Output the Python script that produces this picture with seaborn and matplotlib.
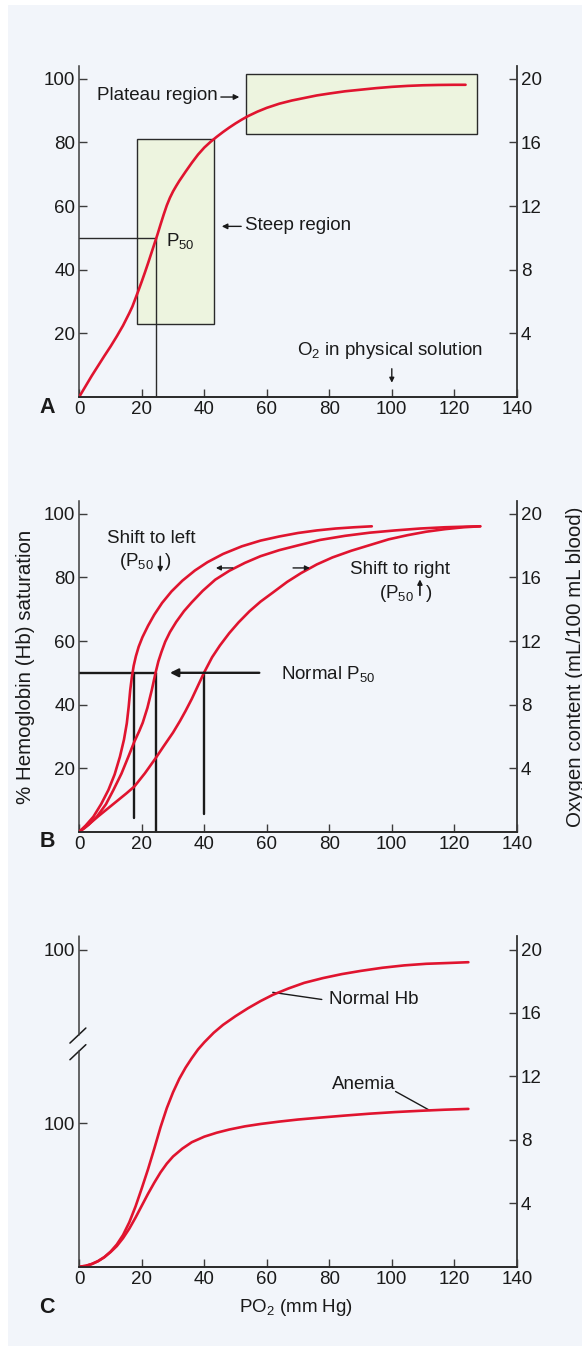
import numpy as np
import pandas as pd
import seaborn as sns
import matplotlib.pyplot as plt
from matplotlib.patches import Rectangle

# ---- panel A : single dissociation curve (PO2 mm Hg, % saturation)
a_po2 = [0, 2, 4, 6, 8, 10, 12, 14, 16, 17, 18, 19, 20, 21, 22, 23, 24, 25, 26, 27, 28,
         29, 30, 31, 32, 34, 36, 38, 40, 42, 44, 46, 48, 50, 52, 54, 57, 60, 64, 68, 72,
         76, 80, 85, 90, 95, 100, 105, 110, 115, 120, 123.6]
a_sat = [0, 3.3, 6.6, 9.7, 12.8, 15.8, 19, 22.4, 26.3, 28.4, 31, 33.6, 36.3, 39.1, 42, 45,
         48, 51, 54.2, 57.3, 60.2, 62.6, 64.6, 66.3, 67.9, 70.8, 73.6, 76.2, 78.4, 80.2,
         81.8, 83.3, 84.7, 86, 87.2, 88.3, 89.7, 90.9, 92.2, 93.2, 94, 94.8, 95.4, 96.1,
         96.6, 97.1, 97.5, 97.8, 98.0, 98.1, 98.15, 98.15]

# ---- panel B : left shift / normal / right shift
bl_po2 = [0, 2, 4.5, 7, 9.3, 11.3, 13, 14.3, 15.2, 15.8, 16.3, 16.8, 17.4, 18.1, 19, 20.2,
          22, 24, 26.5, 29.5, 33, 37, 41, 46, 52, 58, 64, 70, 76, 82, 88, 93.6]
bl_sat = [0, 1.9, 4.7, 8.7, 13.1, 18, 23.6, 29, 34.1, 39.3, 44.6, 48.5, 52.2, 55.2, 58.2,
          61.2, 64.8, 68.3, 72, 75.6, 79, 82.2, 84.8, 87.4, 89.8, 91.6, 92.9, 94, 94.8,
          95.4, 95.8, 96.1]
bn_po2 = [0, 1.5, 3, 5.6, 8.5, 10.9, 13.5, 15.7, 17.6, 19.2, 20.3, 21.8, 23.2, 24.4, 25.3,
          26.3, 27.5, 29, 31, 33.5, 36, 39.5, 43.5, 48, 53, 58, 64, 70, 77, 85, 93, 101,
          109, 117, 124, 128.3]
bn_sat = [0, 1.0, 2.2, 4.7, 8.6, 13.1, 18.3, 23.6, 28.3, 31.7, 34.3, 39.0, 44.6, 50, 53.6,
          56.6, 59.8, 62.8, 66.0, 69.4, 72.2, 75.8, 79.3, 82.1, 84.6, 86.7, 88.6, 90.1,
          91.8, 93.1, 94.1, 94.8, 95.4, 95.8, 96, 96.1]
br_po2 = [0, 3, 6, 9, 12, 15, 17.6, 21, 24.4, 27, 30, 32.2, 34, 36, 38, 40, 42.5, 45, 48,
          51, 54.5, 58, 62, 66.5, 71, 76, 81, 87, 93, 99, 105, 111, 117, 123, 128.3]
br_sat = [0, 2.3, 4.8, 7.2, 9.6, 12.0, 14.2, 18.4, 23.1, 26.9, 31.2, 34.8, 38.0, 41.8, 46.0,
          50.2, 54.9, 58.6, 62.5, 65.9, 69.4, 72.4, 75.3, 78.6, 81.4, 84.1, 86.3, 88.4,
          90.2, 92, 93.3, 94.4, 95.2, 95.8, 96.1]
p50_left, p50_norm, p50_right = 17.6, 24.4, 40.0

# ---- panel C : O2 content (mL/100 mL), normal Hb vs anemia
cn_po2 = [0, 2, 4, 6, 8, 10, 12, 14, 16, 18, 20, 22, 24, 26, 28, 30, 32, 34, 36, 38, 40,
          43, 46, 50, 54, 58, 62, 67, 72, 78, 84, 90, 97, 104, 111, 118, 124.5]
cn_o2 = [0, 0.05, 0.17, 0.35, 0.6, 0.95, 1.4, 2.0, 2.8, 3.8, 4.95, 6.15, 7.45, 8.8, 10.0,
         11.0, 11.85, 12.55, 13.15, 13.7, 14.15, 14.75, 15.25, 15.8, 16.3, 16.75, 17.15,
         17.55, 17.9, 18.2, 18.45, 18.65, 18.85, 19.0, 19.1, 19.15, 19.2]
ca_po2 = [0, 2, 4, 6, 8, 10, 12, 14, 16, 18, 20, 22, 24, 26, 28, 30, 33, 36, 40, 44, 48,
          53, 58, 64, 70, 77, 85, 93, 101, 109, 117, 124.5]
ca_o2 = [0, 0.05, 0.17, 0.35, 0.6, 0.92, 1.3, 1.8, 2.4, 3.1, 3.85, 4.6, 5.3, 5.95, 6.5,
         6.95, 7.45, 7.85, 8.2, 8.45, 8.65, 8.85, 9.0, 9.15, 9.28, 9.4, 9.53, 9.65, 9.75,
         9.83, 9.9, 9.95]

sns.set_theme(style="ticks")
plt.rcParams['font.family'] = ['Liberation Sans', 'DejaVu Sans']
plt.rcParams['mathtext.fontset'] = 'custom'
plt.rcParams['mathtext.rm'] = 'Liberation Sans'
plt.rcParams['mathtext.it'] = 'Liberation Sans:italic'

RED = '#E0142F'
INK = '#1a1a1a'
SPINE = '#3c3c3c'
FS = 13.5
LFS = 14.8

fig = plt.figure(figsize=(5.82, 13.46), dpi=100)
fig.patches.append(Rectangle((8 / 582, 0), 1, 1 - 5 / 1346, transform=fig.transFigure,
                             facecolor='#F2F5FA', edgecolor='none', zorder=-5))

W, H = 582, 1346
left = 79.3 / W
width = 437.5 / W
height = 330.5 / H


def make_axes(bottom_px, ytop, yticks, ylabels, right_top):
    ax = fig.add_axes([left, 1 - bottom_px / H, width, height])
    ax.set_facecolor('none')
    ax.set_xlim(0, 140)
    ax.set_ylim(0, ytop)
    ax.set_xticks(range(0, 141, 20))
    ax.set_yticks(yticks)
    ax.set_yticklabels(ylabels)
    ax.spines['top'].set_visible(False)
    for s in ['left', 'right', 'bottom']:
        ax.spines[s].set_color(SPINE)
        ax.spines[s].set_linewidth(1.1)
    ax.tick_params(direction='in', length=6, width=1, colors=SPINE, labelcolor=INK,
                   labelsize=FS, pad=3)
    tw = ax.twinx()
    tw.set_ylim(0, right_top)
    tw.set_yticks([4, 8, 12, 16, 20])
    tw.spines['top'].set_visible(False)
    tw.spines['left'].set_visible(False)
    tw.spines['right'].set_color(SPINE)
    tw.spines['right'].set_linewidth(1.1)
    tw.tick_params(direction='in', length=6, width=1, colors=SPINE, labelcolor=INK,
                   labelsize=FS, pad=3)
    return ax, tw


def arrow(ax, x0, y0, x1, y1, lw=1.0, ms=8):
    ax.annotate('', xy=(x1, y1), xytext=(x0, y0),
                arrowprops=dict(arrowstyle='-|>', lw=lw, color=INK, mutation_scale=ms,
                                shrinkA=0, shrinkB=0))


def curve(ax, xs, ys):
    sns.lineplot(x=xs, y=ys, ax=ax, color=RED, lw=1.9, sort=False, estimator=None,
                 zorder=3)


# ================= A
axA, twA = make_axes(396.7, 104, [20, 40, 60, 80, 100], ['20', '40', '60', '80', '100'],
                    20.8)
axA.add_patch(Rectangle((18.4, 22.9), 43.1 - 18.4, 81.0 - 22.9, facecolor='#EDF4DF',
                        edgecolor='#2a2a2a', lw=1.0, zorder=1))
axA.add_patch(Rectangle((53.3, 82.7), 127.4 - 53.3, 101.6 - 82.7, facecolor='#EDF4DF',
                        edgecolor='#2a2a2a', lw=1.0, zorder=1))
axA.plot([0, p50_norm], [50, 50], color='#2a2a2a', lw=1.0, zorder=2)
axA.plot([p50_norm, p50_norm], [0, 50], color='#2a2a2a', lw=1.0, zorder=2)
curve(axA, a_po2, a_sat)
axA.text(44.3, 94.9, 'Plateau region', ha='right', va='center', fontsize=FS, color=INK)
arrow(axA, 45.3, 94.3, 51.2, 94.3)
arrow(axA, 51.8, 53.6, 45.6, 53.6)
axA.text(53.0, 53.8, 'Steep region', ha='left', va='center', fontsize=FS, color=INK)
axA.text(27.6, 49.0, r'P$_{\mathrm{50}}$', ha='left', va='center', fontsize=FS, color=INK)
axA.text(99.4, 14.4, r'O$_{\mathrm{2}}$ in physical solution', ha='center', va='center',
         fontsize=FS, color=INK)
arrow(axA, 100, 8.8, 100, 4.4, ms=7)
axA.text(-10.3, -3.4, 'A', ha='center', va='center', fontsize=15.5, fontweight='bold',
         color=INK, clip_on=False)

# ================= B
axB, twB = make_axes(831.7, 104, [20, 40, 60, 80, 100], ['20', '40', '60', '80', '100'],
                    20.8)
for xs, ys in [(bl_po2, bl_sat), (bn_po2, bn_sat), (br_po2, br_sat)]:
    curve(axB, xs, ys)
axB.plot([0, p50_norm], [50, 50], color=INK, lw=1.7, zorder=2)
axB.plot([p50_left, p50_left], [4.2, 50], color=INK, lw=1.7, zorder=2)
axB.plot([p50_norm, p50_norm], [0, 50], color=INK, lw=1.7, zorder=2)
axB.plot([p50_right, p50_right], [5.6, 50], color=INK, lw=1.7, zorder=2)
arrow(axB, 57.6, 50, 29.0, 50, lw=1.7, ms=12)
axB.text(64.6, 49.6, r'Normal P$_{\mathrm{50}}$', ha='left', va='center', fontsize=FS,
         color=INK)
axB.text(22.9, 92.4, 'Shift to left', ha='center', va='center', fontsize=FS, color=INK)
axB.text(12.6, 85.1, r'(P$_{\mathrm{50}}$', ha='left', va='center', fontsize=FS, color=INK)
arrow(axB, 25.9, 86.6, 25.9, 81.6, lw=1.2, ms=7)
axB.text(27.3, 85.1, ')', ha='left', va='center', fontsize=FS, color=INK)
arrow(axB, 49.1, 83.0, 43.7, 83.0, ms=7)
arrow(axB, 68.4, 83.0, 73.8, 83.0, ms=7)
axB.text(102.6, 82.5, 'Shift to right', ha='center', va='center', fontsize=FS, color=INK)
axB.text(96.0, 75.1, r'(P$_{\mathrm{50}}$', ha='left', va='center', fontsize=FS, color=INK)
arrow(axB, 109.0, 74.4, 109.0, 79.4, lw=1.2, ms=7)
axB.text(110.8, 75.1, ')', ha='left', va='center', fontsize=FS, color=INK)
axB.set_ylabel('% Hemoglobin (Hb) saturation', fontsize=LFS, color=INK, labelpad=6)
twB.set_ylabel('Oxygen content (mL/100 mL blood)', fontsize=LFS, color=INK, labelpad=17)
axB.text(-10.3, -3.2, 'B', ha='center', va='center', fontsize=15.5, fontweight='bold',
         color=INK, clip_on=False)

# ================= C  (axis in mL/100 mL units, two saturation scales)
axC, twC = make_axes(1266.7, 20.84, [20, 9.05], ['100', '100'], 20.84)
axC.spines['left'].set_visible(False)
axC.plot([0, 0], [0, 13.58], color=SPINE, lw=1.1, clip_on=False, zorder=4)
axC.plot([0, 0], [14.64, 20.84], color=SPINE, lw=1.1, clip_on=False, zorder=4)
axC.plot([-3.0, 2.1], [14.1, 15.05], color=INK, lw=1.1, clip_on=False)
axC.plot([-3.0, 2.1], [13.05, 14.0], color=INK, lw=1.1, clip_on=False)
curve(axC, cn_po2, cn_o2)
curve(axC, ca_po2, ca_o2)
axC.plot([61.9, 77.6], [17.3, 16.85], color=INK, lw=1.0)
axC.text(80.0, 16.85, 'Normal Hb', ha='left', va='center', fontsize=FS, color=INK)
axC.plot([101.2, 112.2], [11.05, 9.85], color=INK, lw=1.0)
axC.text(101.3, 11.5, 'Anemia', ha='right', va='center', fontsize=FS, color=INK)
axC.text(69.5, -2.55, r'PO$_{\mathrm{2}}$ (mm Hg)', ha='center', va='center', fontsize=FS,
         color=INK, clip_on=False)
axC.text(-10.3, -2.55, 'C', ha='center', va='center', fontsize=15.5, fontweight='bold',
         color=INK, clip_on=False)

fig.savefig('out.png', dpi=100, facecolor='white')
